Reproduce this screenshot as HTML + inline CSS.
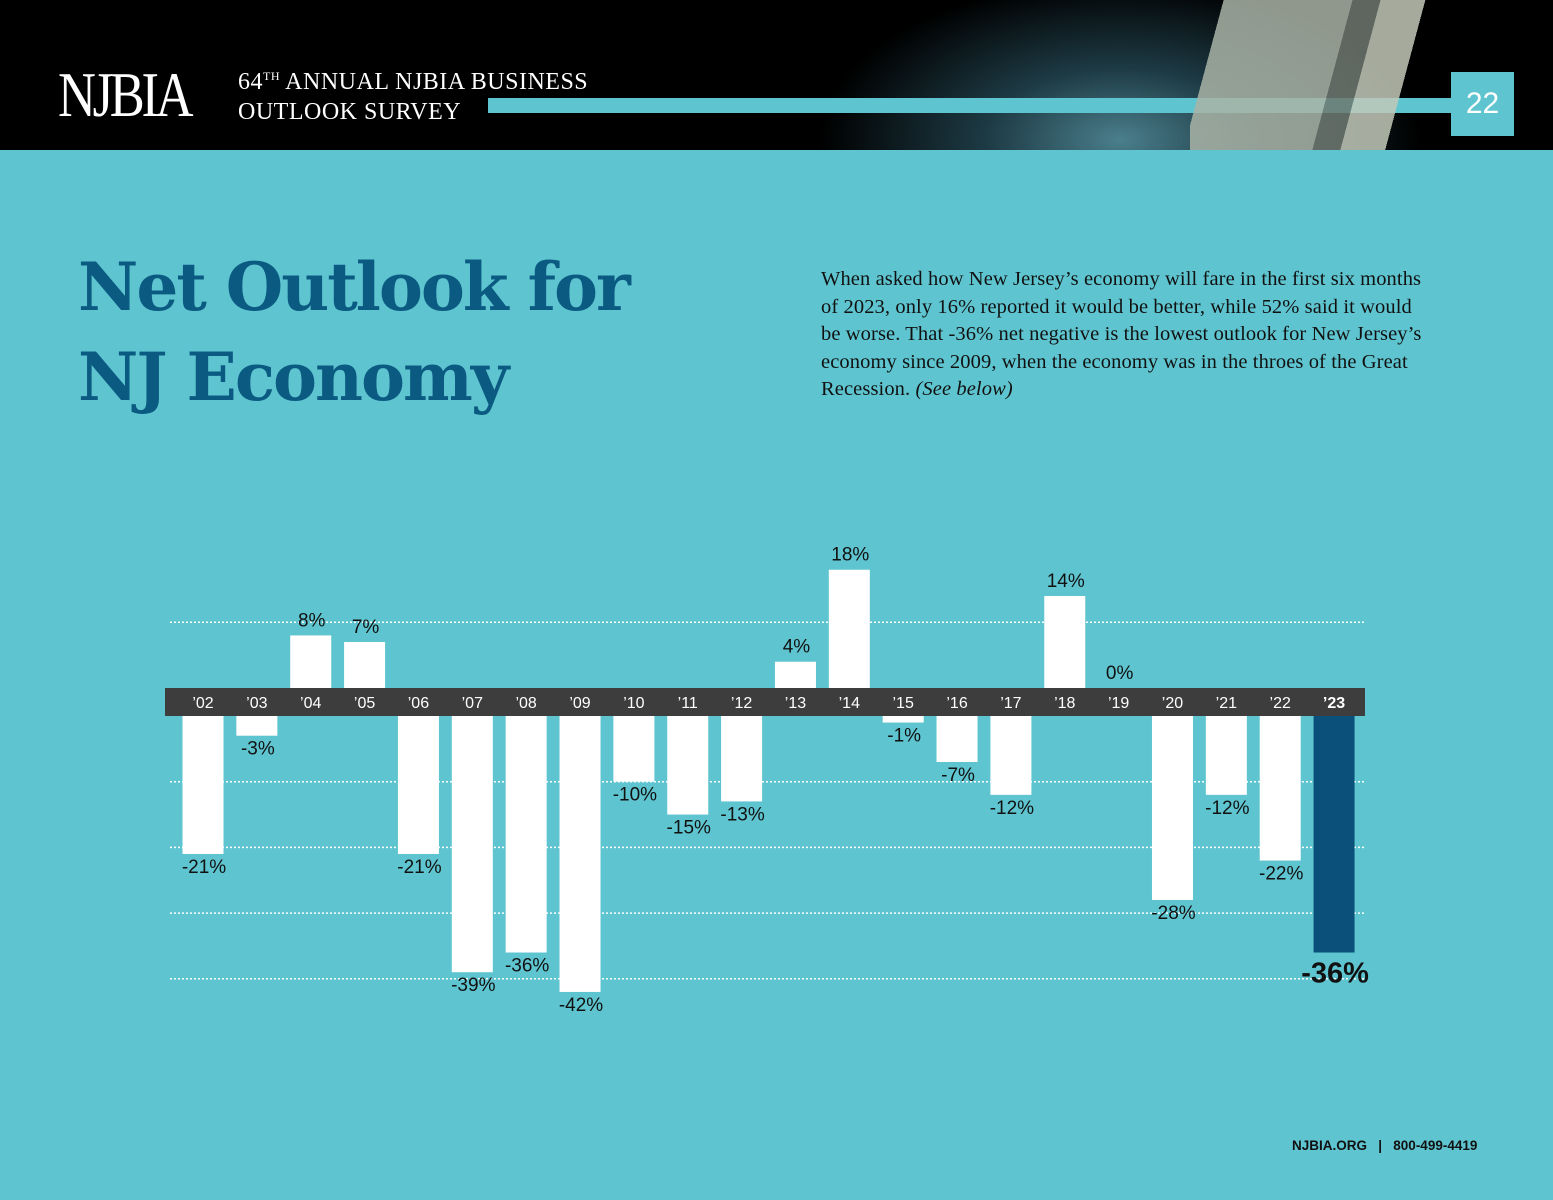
<!DOCTYPE html>
<html><head><meta charset="utf-8"><style>
body{margin:0;width:1553px;height:1200px;background:#5ec5d0;position:relative;overflow:hidden;font-family:"Liberation Sans",sans-serif}
.hdr{position:absolute;left:0;top:0;width:1553px;height:150px;background:radial-gradient(ellipse 300px 160px at 1120px 140px,#4a7f8c 0%,#1d3a44 45%,#000 100%)}
.abs{position:absolute}
</style></head><body>
<div class="hdr"></div>
<div class="abs" style="left:58px;top:58px;color:#fff;font-family:'Liberation Serif',serif;font-size:64px;letter-spacing:-4px;transform:scaleX(0.82);transform-origin:left">NJBIA</div>
<div class="abs" style="left:238px;top:61px;color:#fff;font-family:'Liberation Serif',serif;font-size:24px;line-height:30px;letter-spacing:0.5px">64<sup style="font-size:12px">TH</sup> ANNUAL NJBIA BUSINESS<br>OUTLOOK SURVEY</div>
<div class="abs" style="left:488px;top:98px;width:965px;height:15px;background:#5ec5d0"></div>
<div class="abs" style="left:1190px;top:0;width:240px;height:150px;background:linear-gradient(105deg,transparent 0 12%,#a9b3a6 12% 58%,#6f7870 58% 68%,#c2c8b8 68% 84%,transparent 84%);opacity:0.85"></div>
<div class="abs" style="left:1451px;top:72px;width:63px;height:64px;background:#5ec5d0;color:#fff;font-size:30px;line-height:64px;text-align:center">22</div>
<div class="abs" style="left:78px;top:242px;color:#0b5a82;font-family:'DejaVu Serif','Liberation Serif',serif;font-weight:bold;font-size:66px;line-height:90px;letter-spacing:-2px">Net Outlook for<br>NJ Economy</div>
<div class="abs" style="left:821px;top:266px;width:612px;color:#111;font-family:'Liberation Serif',serif;font-size:20.5px;line-height:27.5px;letter-spacing:0.1px">When asked how New Jersey’s economy will fare in the first six months of 2023, only 16% reported it would be better, while 52% said it would be worse. That -36% net negative is the lowest outlook for New Jersey’s economy since 2009, when the economy was in the throes of the Great Recession. <i>(See below)</i></div>
<svg class="abs" style="left:0;top:0" width="1553" height="1200" id="chart"></svg>
<div class="abs" style="left:1292px;top:1138px;font-size:13.5px;font-weight:bold;color:#111">NJBIA.ORG &nbsp;&nbsp;| &nbsp;&nbsp;800-499-4419</div>
<script>
const years=["’02","’03","’04","’05","’06","’07","’08","’09","’10","’11","’12","’13","’14","’15","’16","’17","’18","’19","’20","’21","’22","’23"];
const values=[-21,-3,8,7,-21,-39,-36,-42,-10,-15,-13,4,18,-1,-7,-12,14,0,-28,-12,-22,-36];
const gridPos=[10];
const gridNeg=[-10,-20,-30,-40];
const NS="http://www.w3.org/2000/svg";
const svg=document.getElementById('chart');
const bandTop=688,bandBot=716,k=6.57;
const x0=203,step=53.86,bw=41;
function xc(i){return x0+i*step;}
function yv(v){return v>=0?bandTop-v*k:bandBot-v*k;}
function mk(t,a){const e=document.createElementNS(NS,t);for(const q in a)e.setAttribute(q,a[q]);svg.appendChild(e);return e;}
gridPos.concat(gridNeg).forEach(g=>{
  const l=mk('line',{x1:170,x2:1365,y1:yv(g),y2:yv(g),stroke:'#fff','stroke-width':1.5,'stroke-dasharray':'2 2'});
  
  
});
const band=mk('rect',{x:165,y:bandTop,width:1200,height:bandBot-bandTop,fill:'#3d3d3d'});


values.forEach((v,i)=>{
  const last=i===values.length-1;
  const y1=v>=0?yv(v):bandBot, h=Math.abs(v)*k;
  const r=mk('rect',{x:xc(i)-bw/2,y:y1,width:bw,height:h,fill:last?'#0b507a':'#fff'});
  
  
  const t=mk('text',{x:xc(i),y:bandTop+20,'text-anchor':'middle',fill:'#fff','font-size':16,'font-weight':last?'bold':'normal'});
  t.textContent=years[i];
  
  
  const ly=v>=0?yv(v)-9:yv(v)+(last?30:19);
  const lb=mk('text',{x:xc(i)+1,y:ly,'text-anchor':'middle',fill:'#111','font-size':last?29:19,'font-weight':last?'bold':'normal'});
  lb.textContent=v+'%';
  
  
});
</script>
</body></html>
